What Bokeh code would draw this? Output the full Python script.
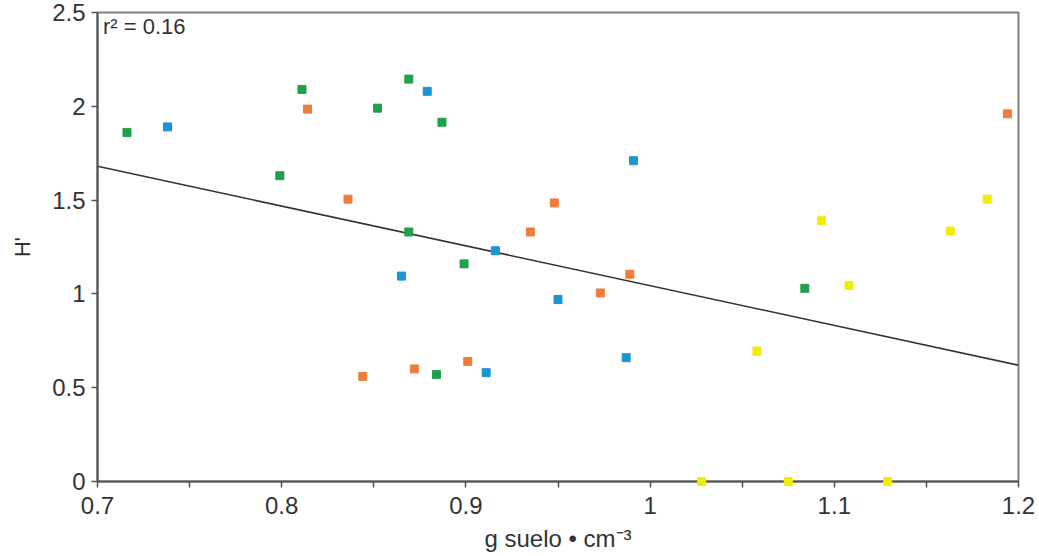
from bokeh.plotting import figure
from bokeh.models import FixedTicker, Label, Range1d
from bokeh.embed import file_html
from bokeh.resources import INLINE

green_x = [0.716, 0.811, 0.799, 0.852, 0.869, 0.887, 0.869, 0.899, 0.884, 1.084]
green_y = [1.86, 2.09, 1.63, 1.99, 2.145, 1.915, 1.33, 1.16, 0.57, 1.03]

blue_x = [0.738, 0.879, 0.991, 0.916, 0.865, 0.950, 0.911, 0.987]
blue_y = [1.89, 2.08, 1.71, 1.23, 1.095, 0.97, 0.58, 0.66]

orange_x = [0.814, 0.836, 0.948, 0.935, 0.973, 0.989, 0.844, 0.872, 0.901, 1.194]
orange_y = [1.985, 1.505, 1.485, 1.33, 1.005, 1.105, 0.56, 0.60, 0.64, 1.96]

yellow_x = [1.028, 1.075, 1.129, 1.058, 1.093, 1.108, 1.163, 1.183]
yellow_y = [0.0, 0.0, 0.0, 0.695, 1.39, 1.045, 1.335, 1.505]

fit_x = [0.7, 1.2]
fit_y = [1.68, 0.62]

x_ticks = [0.7, 0.8, 0.9, 1.0, 1.1, 1.2]
x_tick_labels = ["0.7", "0.8", "0.9", "1", "1.1", "1.2"]
x_minor = [0.75, 0.85, 0.95, 1.05, 1.15]
y_ticks = [0, 0.5, 1, 1.5, 2, 2.5]
y_tick_labels = ["0", "0.5", "1", "1.5", "2", "2.5"]

FONT = "Liberation Sans"

p = figure(width=1039, height=556, output_backend="svg", toolbar_location=None,
           x_range=Range1d(0.7, 1.2), y_range=Range1d(0, 2.5),
           min_border_left=97, min_border_right=21, min_border_top=12, min_border_bottom=75)

p.xgrid.visible = False
p.ygrid.visible = False
p.outline_line_color = "#808080"
p.outline_line_width = 2
p.background_fill_color = "white"
p.border_fill_color = "white"

# regression line
p.line(fit_x, fit_y, line_color="#333333", line_width=1.6)

sq = 8
for xs, ys, col in [(green_x, green_y, "#1fa04c"),
                    (blue_x, blue_y, "#1a95d5"),
                    (orange_x, orange_y, "#ee7d3b"),
                    (yellow_x, yellow_y, "#f2ee00")]:
    p.scatter(xs, ys, marker="square", size=sq, fill_color=col, line_color=col, level="overlay")

for ax in (p.xaxis[0], p.yaxis[0]):
    ax.axis_line_color = "#555555"
    ax.axis_line_width = 2
    ax.major_tick_line_color = "#555555"
    ax.minor_tick_line_color = "#555555"
    ax.major_tick_line_width = 1.5
    ax.minor_tick_line_width = 1.5
    ax.major_tick_out = 6
    ax.major_tick_in = 0
    ax.minor_tick_out = 6
    ax.minor_tick_in = 0
    ax.major_label_text_font = FONT
    ax.major_label_text_font_size = "24px"
    ax.major_label_text_color = "#333333"
    ax.axis_label_text_font = FONT
    ax.axis_label_text_font_style = "normal"
    ax.axis_label_text_color = "#333333"

p.xaxis.ticker = FixedTicker(ticks=x_ticks, minor_ticks=x_minor)
p.xaxis.major_label_overrides = dict(zip(x_ticks, x_tick_labels))
p.xaxis.axis_label = "g suelo \u2022 cm\u207b\u00b3"
p.xaxis.axis_label_text_font_size = "24px"
p.xaxis.major_label_standoff = 9
p.xaxis.axis_label_standoff = 8

p.yaxis.ticker = FixedTicker(ticks=y_ticks, minor_ticks=[])
p.yaxis.major_label_overrides = dict(zip(y_ticks, y_tick_labels))
p.yaxis.axis_label = "H'"
p.yaxis.axis_label_text_font_size = "22px"
p.yaxis.major_label_standoff = 6
p.yaxis.axis_label_standoff = 14

p.add_layout(Label(x=0.703, y=2.36, text="r\u00b2 = 0.16", text_font=FONT,
                   text_font_size="22px", text_color="#333333"))

open("out.html", "w").write(file_html(p, INLINE))
